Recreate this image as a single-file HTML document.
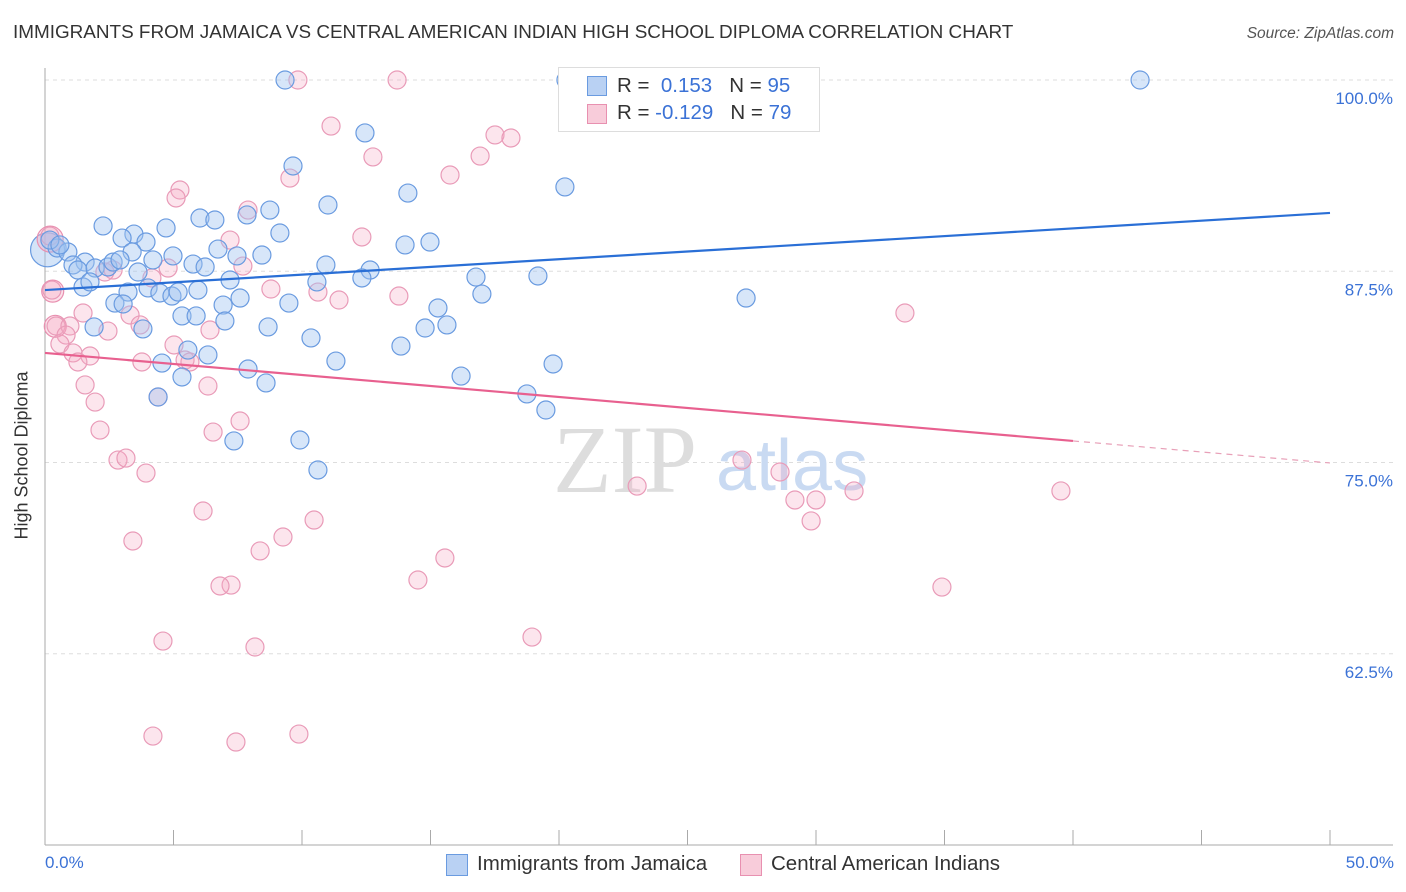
<!DOCTYPE html>
<html><head><meta charset="utf-8"><style>
body{margin:0;background:#fff;font-family:"Liberation Sans",sans-serif;}
#wrap{position:relative;width:1406px;height:892px;overflow:hidden;}
.t{position:absolute;white-space:nowrap;}
</style></head><body>
<div id="wrap">
<div class="t" style="left:13px;top:22px;font-size:18.9px;color:#333;">IMMIGRANTS FROM JAMAICA VS CENTRAL AMERICAN INDIAN HIGH SCHOOL DIPLOMA CORRELATION CHART</div>
<div class="t" style="right:12px;top:25px;font-size:15.5px;color:#555;font-style:italic;">Source: ZipAtlas.com</div>
<svg id="svg" width="1406" height="892" style="position:absolute;left:0;top:0"></svg>
</div>
<script>
const xTickVals=[0,5,10,15,20,25,30,35,40,45,50];
const yTickVals=[100,87.5,75,62.5];
const yTickLabels=["100.0%","87.5%","75.0%","62.5%"];
const blueX=[9.34,20.27,42.61,12.45,9.65,20.23,14.12,11.01,6.03,6.61,7.86,8.75,2.26,4.71,9.14,3.46,3.00,3.93,14.98,14.01,6.73,3.39,4.98,7.47,8.44,0.47,0.89,0.19,0.58,1.56,1.09,1.28,1.95,2.45,2.65,2.92,4.20,5.76,6.23,10.93,12.65,10.58,12.33,16.77,19.18,7.20,3.62,1.48,1.75,3.23,4.01,4.47,4.94,5.18,5.95,7.59,9.49,2.72,3.04,6.93,27.28,17.00,15.29,3.81,5.33,5.88,7.00,8.68,1.91,10.35,14.79,15.64,13.85,5.56,6.34,4.55,7.90,11.32,19.77,5.33,8.60,16.19,4.40,18.75,19.49,7.35,9.92,10.62,25.80,22.37];
const blueY=[100,100,100,96.54,94.38,93.01,92.61,91.83,90.98,90.85,91.18,91.50,90.46,90.33,90.00,89.93,89.67,89.41,89.41,89.22,88.95,88.76,88.50,88.50,88.56,89.02,88.76,89.54,89.22,88.10,87.91,87.58,87.71,87.78,88.10,88.24,88.24,87.97,87.78,87.91,87.58,86.80,87.06,87.12,87.19,86.93,87.45,86.47,86.80,86.14,86.41,86.08,85.88,86.14,86.27,85.75,85.42,85.42,85.36,85.29,85.75,86.01,85.10,83.73,84.58,84.58,84.25,83.86,83.86,83.14,83.79,83.99,82.61,82.35,82.03,81.50,81.11,81.63,81.44,80.59,80.20,80.65,79.28,79.48,78.43,76.41,76.47,74.51,98.24,99.80];
const pinkX=[9.84,13.70,21.79,11.13,12.76,17.51,18.13,16.93,15.76,9.53,5.25,5.10,7.90,0.19,7.20,12.33,7.70,4.79,4.16,2.65,2.33,8.79,10.62,11.44,13.77,0.27,1.48,3.31,3.70,0.43,0.97,0.82,2.45,6.42,0.58,5.02,5.45,1.09,1.75,1.28,3.77,5.64,1.56,6.34,1.95,4.40,7.59,2.14,6.54,2.84,3.15,3.93,27.12,28.60,23.04,29.18,30.00,31.48,39.53,33.46,29.81,6.15,10.47,3.42,9.26,8.37,15.56,14.51,7.24,6.81,34.90,18.95,4.59,8.17,4.20,7.43,9.88];
const pinkY=[100,100,100,96.99,94.97,96.41,96.21,95.03,93.79,93.59,92.81,92.29,91.50,89.80,89.54,89.74,87.84,87.71,87.06,87.58,87.45,86.34,86.14,85.62,85.88,86.27,84.77,84.64,83.99,83.92,83.92,83.33,83.59,83.66,82.75,82.68,81.70,82.16,81.96,81.57,81.57,81.57,80.07,80.00,78.95,79.28,77.71,77.12,76.99,75.16,75.29,74.31,75.16,74.38,73.46,72.55,72.55,73.14,73.14,84.77,71.18,71.83,71.24,69.87,70.13,69.22,68.76,67.32,66.99,66.93,66.86,63.59,63.33,62.94,57.12,56.73,57.25];
const bigBlue=[[0.1,88.9,17]];
const bigPink=[[0.2,89.6,13],[0.3,86.2,11],[0.4,83.9,11]];
const blueLine=[86.27,91.31];
const pinkLine=[82.16,74.97];
const pinkSolidEnd=40;

const X=v=>45+v*25.7, Y=v=>80+(100-v)*15.3;
const svg=document.getElementById('svg');const NS='http://www.w3.org/2000/svg';
function mk(t,a){const e=document.createElementNS(NS,t);for(const k in a)e.setAttribute(k,a[k]);svg.appendChild(e);return e;}
yTickVals.forEach((v,i)=>{
 const g=mk('line',{x1:45,x2:1393,y1:Y(v),y2:Y(v),stroke:'#ddd','stroke-dasharray':'4,4'});
 
 
 const t=mk('text',{x:1393,y:Y(v)+24,'text-anchor':'end','font-size':17,fill:'#3b72d6','font-family':'Liberation Sans'});
 t.textContent=yTickLabels[i];
 
 
});
const ax=mk('line',{x1:45,x2:45,y1:68,y2:845,stroke:'#aaa'});


const bx=mk('line',{x1:45,x2:1393,y1:845,y2:845,stroke:'#aaa'});


xTickVals.forEach(v=>{
 const l=mk('line',{x1:X(v),x2:X(v),y1:830,y2:845,stroke:'#aaa'});
 
 
});
const wm=mk('text',{x:553,y:492,'font-size':96,fill:'#ddd','font-family':'Liberation Serif'});wm.textContent='ZIP';


const wm2=mk('text',{x:716,y:490,'font-size':72,fill:'#c9daf2','font-family':'Liberation Sans'});wm2.textContent='atlas';


function dots(xs,ys,fill,stroke,name){xs.forEach((x,i)=>{
 const c=mk('circle',{cx:X(x),cy:Y(ys[i]),r:9,fill:fill,stroke:stroke,'stroke-width':1.2});
 
 
});}
bigBlue.forEach(p=>{const c=mk('circle',{cx:X(p[0]),cy:Y(p[1]),r:p[2],fill:'rgba(160,195,240,0.45)',stroke:'#6a9be0','stroke-width':1.2});
 
 });
bigPink.forEach(p=>{const c=mk('circle',{cx:X(p[0]),cy:Y(p[1]),r:p[2],fill:'rgba(245,170,195,0.35)',stroke:'#e890b0','stroke-width':1.2});
 
 });
dots(pinkX,pinkY,'rgba(245,170,195,0.3)','#e99bb8','central-american-indian-point');
dots(blueX,blueY,'rgba(160,195,240,0.42)','#6a9be0','jamaica-point');
const bl=mk('line',{x1:X(0),y1:Y(blueLine[0]),x2:X(50),y2:Y(blueLine[1]),stroke:'#2a6fd6','stroke-width':2.2});


const pe=pinkLine[0]+(pinkLine[1]-pinkLine[0])*pinkSolidEnd/50;
const pl=mk('line',{x1:X(0),y1:Y(pinkLine[0]),x2:X(pinkSolidEnd),y2:Y(pe),stroke:'#e8608f','stroke-width':2.2});


const pd=mk('line',{x1:X(pinkSolidEnd),y1:Y(pe),x2:X(50),y2:Y(pinkLine[1]),stroke:'#e8a0b8','stroke-width':1.2,'stroke-dasharray':'6,5'});


</script>
<div class="t" style="left:-62px;top:445px;font-size:18px;color:#333;transform:rotate(-90deg);">High School Diploma</div>
<div class="t" style="left:45px;top:853px;font-size:17px;color:#3b72d6;">0.0%</div>
<div class="t" style="right:12px;top:853px;font-size:17px;color:#3b72d6;">50.0%</div>
<div style="position:absolute;left:558px;top:67px;width:260px;height:63px;border:1px solid #ddd;background:#fff;font-size:20.5px;">
 <div style="position:absolute;left:28px;top:8px;width:18px;height:18px;background:#b9d1f3;border:1px solid #6a9be0;"></div>
 <div class="t" style="left:58px;top:6px;color:#333;">R = &nbsp;<span style="color:#3b72d6">0.153</span>&nbsp;&nbsp;&nbsp;N = <span style="color:#3b72d6">95</span></div>
 <div style="position:absolute;left:28px;top:36px;width:18px;height:18px;background:#f8ccda;border:1px solid #e890b0;"></div>
 <div class="t" style="left:58px;top:33px;color:#333;">R = <span style="color:#3b72d6">-0.129</span>&nbsp;&nbsp;&nbsp;N = <span style="color:#3b72d6">79</span></div>
</div>
<div style="position:absolute;left:446px;top:854px;width:20px;height:20px;background:#b9d1f3;border:1px solid #6a9be0;"></div>
<div class="t" style="left:477px;top:852px;font-size:20.5px;color:#333;">Immigrants from Jamaica</div>
<div style="position:absolute;left:740px;top:854px;width:20px;height:20px;background:#f8ccda;border:1px solid #e890b0;"></div>
<div class="t" style="left:771px;top:852px;font-size:20.5px;color:#333;">Central American Indians</div>
</body></html>
